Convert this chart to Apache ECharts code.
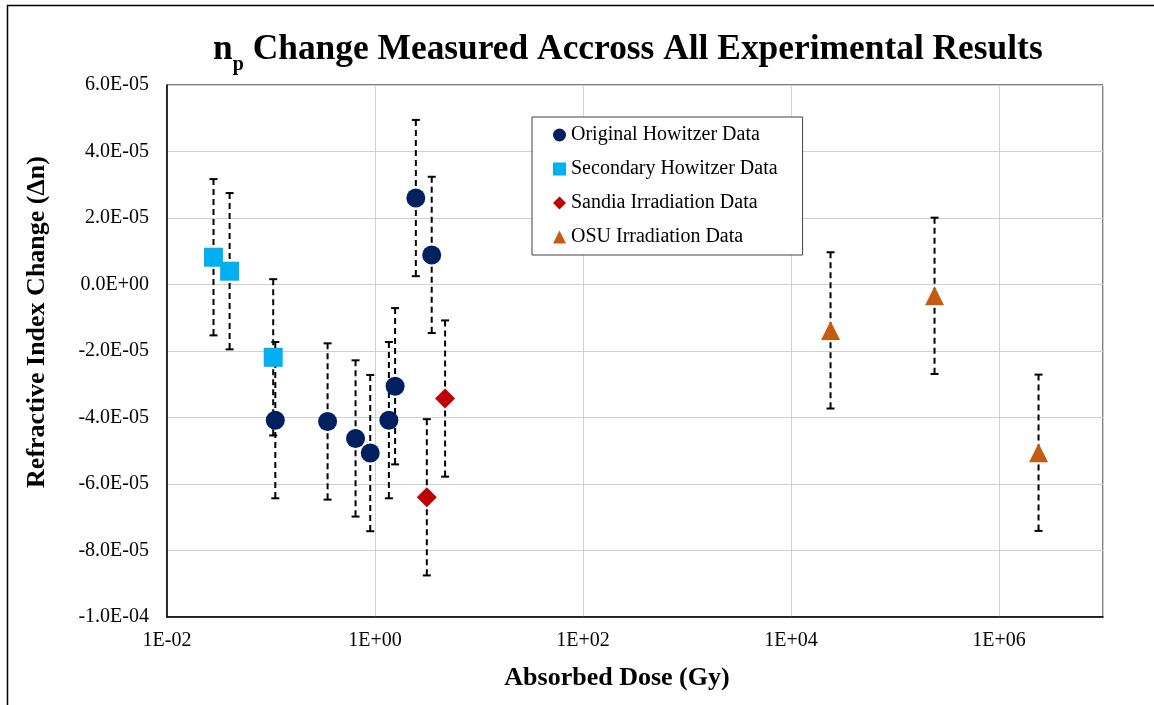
<!DOCTYPE html>
<html>
<head>
<meta charset="utf-8">
<script src="https://cdn.jsdelivr.net/npm/echarts@6/dist/echarts.min.js"></script>
<style>
html,body{margin:0;padding:0;background:#fff;}
#chart{width:1154px;height:705px;}
</style>
</head>
<body>
<div id="chart"></div>
<script>
// ---- Data ----
const origX   = [0.11, 0.35, 0.65, 0.90, 1.36, 1.56, 2.47, 3.51];
const origY   = [-4.08e-5, -4.12e-5, -4.63e-5, -5.07e-5, -4.08e-5, -3.06e-5, 2.60e-5, 8.9e-6];
const origErr = [2.35e-5, 2.35e-5, 2.35e-5, 2.35e-5, 2.35e-5, 2.35e-5, 2.35e-5, 2.35e-5];

const secX    = [0.028, 0.040, 0.105];
const secY    = [8.2e-6, 4.0e-6, -2.19e-5];
const secErr  = [2.35e-5, 2.35e-5, 2.35e-5];

const sanX    = [3.15, 4.72];
const sanY    = [-6.40e-5, -3.43e-5];
const sanErr  = [2.35e-5, 2.35e-5];

const osuX    = [2.4e4, 2.4e5, 2.4e6];
const osuY    = [-1.38e-5, -3.4e-6, -5.06e-5];
const osuErr  = [2.35e-5, 2.35e-5, 2.35e-5];

const seriesNames = ['Original Howitzer Data', 'Secondary Howitzer Data', 'Sandia Irradiation Data', 'OSU Irradiation Data'];
const titleMain = 'Change Measured Accross All Experimental Results';
const xTitle = 'Absorbed Dose (Gy)';
const yTitle = 'Refractive Index Change (\u0394n)';

// ---- Helpers ----
const FONT = 'Liberation Serif';
function pts(xs, ys){ return xs.map((x,i)=>[x, ys[i]]); }
function errs(xs, ys, es){ return xs.map((x,i)=>[x, ys[i]-es[i], ys[i]+es[i]]); }
function fmtY(v){
  let s = Number(v).toExponential(1);
  let parts = s.split('e');
  let e = parseInt(parts[1],10);
  return parts[0] + 'E' + (e<0?'-':'+') + String(Math.abs(e)).padStart(2,'0');
}
function fmtX(v){
  const e = Math.round(Math.log10(v));
  return '1E' + (e<0?'-':'+') + String(Math.abs(e)).padStart(2,'0');
}
function errRender(params, api){
  const x = api.value(0), lo = api.value(1), hi = api.value(2);
  const p1 = api.coord([x, hi]);
  const p2 = api.coord([x, lo]);
  const cw = 4;
  const st = {stroke:'#000', lineWidth:2};
  return {type:'group', children:[
    {type:'line', shape:{x1:p1[0], y1:p1[1], x2:p2[0], y2:p2[1]}, style:{stroke:'#000', lineWidth:2, lineDash:[6,4]}},
    {type:'line', shape:{x1:p1[0]-cw, y1:p1[1], x2:p1[0]+cw, y2:p1[1]}, style:st},
    {type:'line', shape:{x1:p2[0]-cw, y1:p2[1], x2:p2[0]+cw, y2:p2[1]}, style:st}
  ]};
}
function errSeries(data){
  return {type:'custom', renderItem:errRender, data:data, encode:{x:0, y:[1,2]}, z:2, silent:true, clip:false};
}

const chart = echarts.init(document.getElementById('chart'), null, {renderer:'canvas'});
const option = {
  animation:false,
  backgroundColor:'#fff',
  title:{
    left:213, top:32, padding:0,
    text:'{n|n}{p|p}{t| ' + titleMain + '}',
    textStyle:{
      rich:{
        n:{fontFamily:FONT, fontWeight:'bold', fontSize:35.4, lineHeight:37, verticalAlign:'top', color:'#000'},
        p:{fontFamily:FONT, fontWeight:'bold', fontSize:20, lineHeight:20, padding:[23,0,0,0], verticalAlign:'top', color:'#000'},
        t:{fontFamily:FONT, fontWeight:'bold', fontSize:35.4, lineHeight:37, verticalAlign:'top', color:'#000'}
      }
    }
  },
  legend:{
    data:seriesNames,
    orient:'vertical',
    left:532, top:117,
    padding:[8,25,8,21],
    itemGap:14,
    itemWidth:13, itemHeight:13,
    backgroundColor:'#fff',
    borderColor:'#404040', borderWidth:1,
    textStyle:{fontFamily:FONT, fontSize:20, lineHeight:20, color:'#000'}
  },
  grid:{left:167, right:51, top:85, bottom:88, show:true, borderColor:'#000', borderWidth:1, backgroundColor:'transparent'},
  xAxis:{
    type:'log', logBase:100, min:0.01, max:1e7,
    axisLine:{show:true, onZero:false, lineStyle:{color:'#000', width:1.5}},
    axisTick:{show:false},
    axisLabel:{formatter:fmtX, fontFamily:FONT, fontSize:20, color:'#000', margin:14, showMaxLabel:false},
    splitLine:{show:true, lineStyle:{color:'#d0d0d0', width:1}},
    minorTick:{show:false}
  },
  yAxis:{
    type:'value', min:-1e-4, max:6e-5, interval:2e-5,
    axisLine:{show:true, onZero:false, lineStyle:{color:'#000', width:1.5}},
    axisTick:{show:false},
    axisLabel:{formatter:fmtY, fontFamily:FONT, fontSize:20, color:'#000', margin:18},
    splitLine:{show:true, lineStyle:{color:'#d0d0d0', width:1}}
  },
  graphic:[
    {type:'rect', shape:{x:7.5, y:5.5, width:1160, height:720}, style:{fill:'none', stroke:'#000', lineWidth:1.5}, silent:true, z:-10},
    {type:'text', x:617, y:678, style:{text:xTitle, font:'bold 26px "Liberation Serif"', fill:'#000', align:'center', verticalAlign:'middle'}},
    {type:'text', x:37, y:322, rotation:Math.PI/2, style:{text:yTitle, font:'bold 26px "Liberation Serif"', fill:'#000', align:'center', verticalAlign:'middle'}}
  ],
  series:[
    errSeries(errs(origX, origY, origErr)),
    errSeries(errs(secX, secY, secErr)),
    errSeries(errs(sanX, sanY, sanErr)),
    errSeries(errs(osuX, osuY, osuErr)),
    {name:seriesNames[0], type:'scatter', data:pts(origX, origY), symbol:'circle', symbolSize:19, itemStyle:{color:'#002060', opacity:1}, z:3},
    {name:seriesNames[1], type:'scatter', data:pts(secX, secY), symbol:'rect', symbolSize:19, itemStyle:{color:'#00B0F0', opacity:1}, z:3},
    {name:seriesNames[2], type:'scatter', data:pts(sanX, sanY), symbol:'diamond', symbolSize:20, itemStyle:{color:'#C00000', opacity:1}, z:3},
    {name:seriesNames[3], type:'scatter', data:pts(osuX, osuY), symbol:'triangle', symbolSize:19, itemStyle:{color:'#C55A11', opacity:1}, z:3}
  ]
};
chart.setOption(option);
</script>
</body>
</html>
